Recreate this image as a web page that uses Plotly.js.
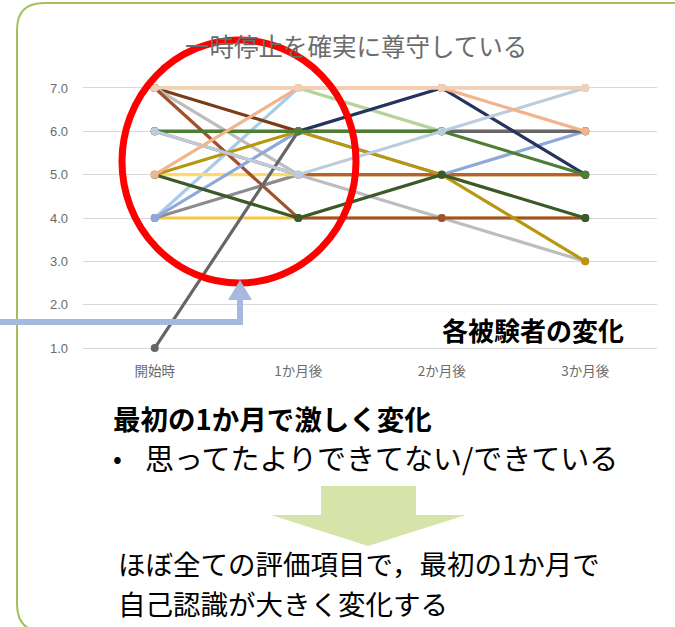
<!DOCTYPE html>
<html>
<head>
<meta charset="utf-8">
<script src="https://cdn.plot.ly/plotly-3.0.1.min.js"></script>
<style>html,body{margin:0;padding:0;background:#fff;}#chart{width:675px;height:627px;}</style>
</head>
<body>
<div id="chart"></div>
<script>
// ---- data ----
const categories = ['開始時', '1か月後', '2か月後', '3か月後'];
const yTickVals = [1, 2, 3, 4, 5, 6, 7];
const yTickText = ['1.0', '2.0', '3.0', '4.0', '5.0', '6.0', '7.0'];
const chartTitle = '一時停止を確実に尊守している';
const seriesNote = '各被験者の変化';
const headline = '最初の1か月で激しく変化';
const bulletText = '思ってたよりできてない/できている';
const conclusionLine1 = 'ほぼ全ての評価項目で，最初の1か月で';
const conclusionLine2 = '自己認識が大きく変化する';

const lightBlue    = [4, 7, 7, 7];
const yellowOrange = [4, 4, 4, 4];
const grayA        = [4, 5, 5, 5];
const yellow       = [5, 5, 5, 5];
const brownB       = [6, 5, 5, 5];
const lightGreen   = [7, 7, 6, 6];
const darkBrown    = [7, 6, 6, 6];
const lightGray    = [7, 5, 4, 3];
const brown        = [7, 4, 4, 4];
const periwinkle   = [4, 6, 5, 6];
const darkGray     = [1, 6, 6, 6];
const navy         = [6, 6, 7, 5];
const olive        = [5, 6, 5, 3];
const green        = [6, 6, 6, 5];
const darkGreen    = [5, 4, 5, 4];
const blueGray     = [6, 5, 6, 7];
const salmon       = [5, 7, 7, 6];
const peach        = [7, 7, 7, 7];

// draw order bottom -> top, with colours
const seriesList = [
  [lightBlue, '#A9CBEA'], [yellowOrange, '#F5C842'], [grayA, '#8C8C8C'],
  [yellow, '#FFDA6A'], [brownB, '#B8612A'], [lightGreen, '#B5D39A'],
  [darkBrown, '#7A3B15'], [lightGray, '#BDBDBD'], [brown, '#A0522D'],
  [periwinkle, '#8EA8DA'], [darkGray, '#666666'], [navy, '#25345E'],
  [olive, '#B8960E'], [green, '#4E7D34'], [darkGreen, '#3A5A28'],
  [blueGray, '#BCCCDF'], [salmon, '#F2B48C'], [peach, '#F5CFB4']
];

const traces = seriesList.map(([vals, col]) => ({
  type: 'scatter', mode: 'lines+markers',
  x: categories, y: vals,
  line: {color: col, width: 3.2},
  marker: {color: col, size: 8},
  cliponaxis: false, hoverinfo: 'skip', showlegend: false
}));

// pixel -> paper helpers (margins are zero, so paper == figure)
const W = 675, H = 627;
const px = v => v / W;
const py = v => 1 - v / H;

const jp = '"Noto Sans CJK JP", "Noto Sans", sans-serif';

const layout = {
  width: W, height: H,
  margin: {l: 0, r: 0, t: 0, b: 0},
  paper_bgcolor: '#ffffff', plot_bgcolor: '#ffffff',
  showlegend: false, hovermode: false,
  font: {family: jp},
  xaxis: {
    type: 'category', domain: [83 / W, 657 / W], range: [-0.5, 3.5],
    showgrid: false, zeroline: false, showline: false, ticks: '',
    tickfont: {size: 13.5, color: '#6b6b6b', family: jp}, ticklabelstandoff: 11,
    fixedrange: true
  },
  yaxis: {
    domain: [1 - 350.2 / H, 1 - 85.8 / H], range: [0.95, 7.05],
    tickvals: yTickVals, ticktext: yTickText,
    showgrid: true, gridcolor: '#D9D9D9', gridwidth: 1,
    zeroline: false, showline: false, ticks: '',
    tickfont: {size: 13, color: '#6b6b6b', family: 'Liberation Sans, sans-serif'}, ticklabelstandoff: 14,
    fixedrange: true
  },
  shapes: [
    // rounded frame
    {type: 'path', xref: 'paper', yref: 'paper', layer: 'below',
     path: 'M ' + px(45) + ',' + py(632) + ' Q ' + px(17) + ',' + py(632) + ' ' + px(17) + ',' + py(604) +
           ' L ' + px(17) + ',' + py(30) + ' Q ' + px(17) + ',' + py(3) + ' ' + px(44) + ',' + py(3) + ' L ' + px(690) + ',' + py(3),
     line: {color: '#A3C05A', width: 2}},
    // red circle
    {type: 'circle', xref: 'paper', yref: 'paper',
     x0: px(122), x1: px(356), y0: py(283), y1: py(40),
     line: {color: '#FF0000', width: 7}},
    // blue bent arrow
    {type: 'path', xref: 'paper', yref: 'paper',
     path: 'M ' + px(-5) + ',' + py(322) + ' L ' + px(240) + ',' + py(322) + ' L ' + px(240) + ',' + py(298),
     line: {color: '#A7B8DE', width: 6}},
    {type: 'path', xref: 'paper', yref: 'paper',
     path: 'M ' + px(228) + ',' + py(300) + ' L ' + px(252) + ',' + py(300) + ' L ' + px(240) + ',' + py(280) + ' Z',
     fillcolor: '#A7B8DE', line: {width: 0}},
    // green down arrow
    {type: 'path', xref: 'paper', yref: 'paper',
     path: 'M ' + px(321) + ',' + py(486) + ' L ' + px(416) + ',' + py(486) + ' L ' + px(416) + ',' + py(515) +
           ' L ' + px(466) + ',' + py(515) + ' L ' + px(368) + ',' + py(546) + ' L ' + px(271) + ',' + py(515) +
           ' L ' + px(321) + ',' + py(515) + ' Z',
     fillcolor: '#D6E4A9', line: {width: 0}}
  ],
  annotations: [
    {text: chartTitle, xref: 'paper', yref: 'paper', x: px(356), y: py(45), xanchor: 'center', yanchor: 'middle',
     showarrow: false, font: {size: 24.5, color: '#6b6b6b', family: jp}},
    {text: '<b>' + seriesNote + '</b>', xref: 'paper', yref: 'paper', x: px(626), y: py(329), xanchor: 'right', yanchor: 'middle',
     showarrow: false, font: {size: 26, color: '#000000', family: jp}},
    {text: '<b>' + headline + '</b>', xref: 'paper', yref: 'paper', x: px(111), y: py(418), xanchor: 'left', yanchor: 'middle',
     showarrow: false, font: {size: 27.5, color: '#000000', family: jp}},
    {text: '•', xref: 'paper', yref: 'paper', x: px(111), y: py(457), xanchor: 'left', yanchor: 'middle',
     showarrow: false, font: {size: 26, color: '#000000', family: jp}},
    {text: bulletText, xref: 'paper', yref: 'paper', x: px(143), y: py(457), xanchor: 'left', yanchor: 'middle',
     showarrow: false, font: {size: 29, color: '#000000', family: jp}},
    {text: conclusionLine1, xref: 'paper', yref: 'paper', x: px(116), y: py(563), xanchor: 'left', yanchor: 'middle',
     showarrow: false, font: {size: 27.5, color: '#000000', family: jp}},
    {text: conclusionLine2, xref: 'paper', yref: 'paper', x: px(116), y: py(603), xanchor: 'left', yanchor: 'middle',
     showarrow: false, font: {size: 27.5, color: '#000000', family: jp}}
  ]
};

Plotly.newPlot('chart', traces, layout, {displayModeBar: false, staticPlot: true});
</script>
</body>
</html>
